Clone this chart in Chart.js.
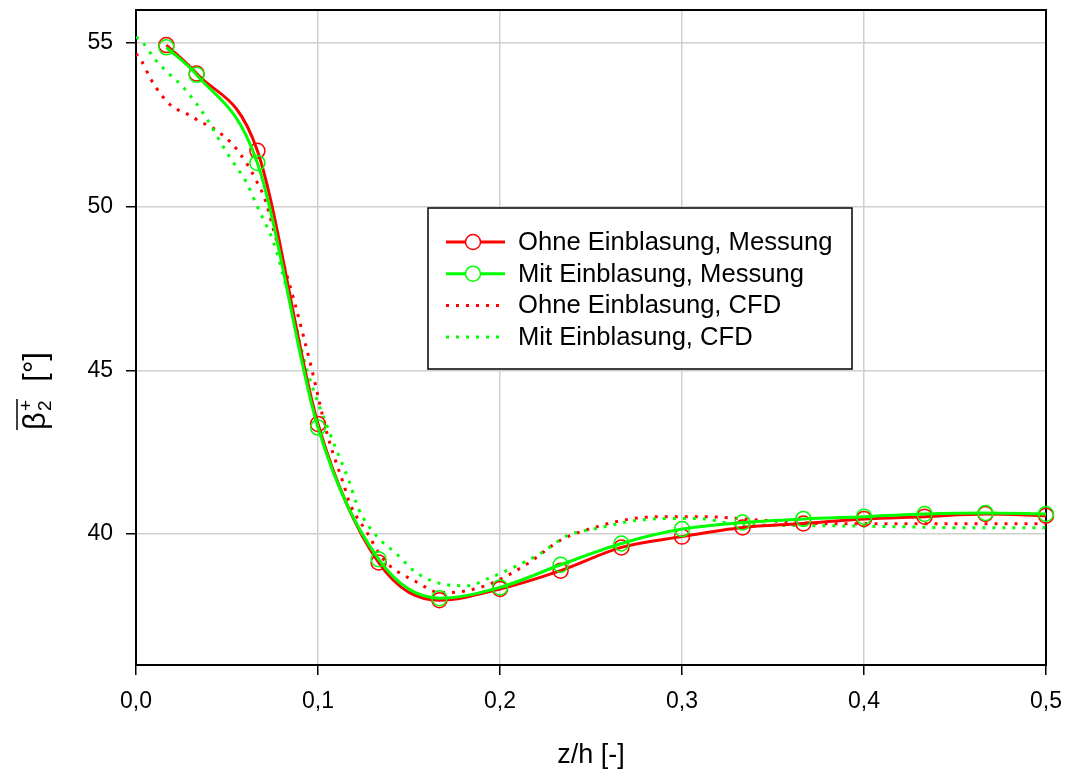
<!DOCTYPE html>
<html>
<head>
<meta charset="utf-8">
<script src="https://cdn.jsdelivr.net/npm/chart.js@4"></script>
<style>
    body { margin: 0; background: #fff; }
    canvas { display: block; }
</style>
</head>
<body>
<canvas id="beta-chart" width="1069" height="773"></canvas>
<script>
// --- DATEN ---
// Messpositionen z/h
const zhMessung = [0.0167, 0.0333, 0.0667, 0.1, 0.1333, 0.1667, 0.2, 0.2333, 0.2667, 0.3, 0.3333, 0.3667, 0.4, 0.4333, 0.4667, 0.5];
const betaOhneMessung = [54.93, 54.06, 51.70, 43.36, 39.13, 37.98, 38.32, 38.88, 39.59, 39.92, 40.20, 40.32, 40.46, 40.53, 40.61, 40.56];
const betaMitMessung = [54.86, 54.02, 51.33, 43.25, 39.23, 38.04, 38.37, 39.06, 39.71, 40.15, 40.35, 40.46, 40.53, 40.61, 40.64, 40.61];

// CFD-Verläufe
const zhOhneCFD = [0, 0.003, 0.008, 0.014, 0.020, 0.028, 0.035, 0.043, 0.053, 0.061, 0.066, 0.071, 0.076, 0.087, 0.0967, 0.105, 0.114, 0.1176, 0.127, 0.1357, 0.155, 0.167, 0.182, 0.196, 0.215, 0.233, 0.255, 0.273, 0.292, 0.31, 0.347, 0.383, 0.42, 0.457, 0.5];
const betaOhneCFD = [54.67, 54.45, 53.9, 53.4, 53.05, 52.83, 52.6, 52.37, 51.9, 51.3, 50.8, 50.2, 49.2, 47.1, 45.0, 43.06, 41.53, 40.92, 40.04, 39.24, 38.51, 38.21, 38.27, 38.51, 39.09, 39.8, 40.25, 40.47, 40.53, 40.53, 40.41, 40.31, 40.31, 40.31, 40.31];
const zhMitCFD = [0, 0.0038, 0.0104, 0.0176, 0.025, 0.0324, 0.039, 0.045, 0.0516, 0.061, 0.066, 0.0704, 0.0753, 0.0846, 0.094, 0.1066, 0.1176, 0.122, 0.132, 0.143, 0.154, 0.168, 0.182, 0.193, 0.207, 0.222, 0.237, 0.255, 0.273, 0.292, 0.31, 0.328, 0.383, 0.42, 0.457, 0.5];
const betaMitCFD = [55.18, 55.0, 54.5, 54.08, 53.7, 53.2, 52.67, 52.1, 51.5, 50.7, 50.08, 49.56, 48.95, 47.1, 45.0, 43.06, 41.53, 40.8, 39.95, 39.4, 38.82, 38.48, 38.42, 38.63, 38.97, 39.4, 39.95, 40.19, 40.4, 40.47, 40.47, 40.31, 40.25, 40.22, 40.19, 40.19];

const xTicks = [0, 0.1, 0.2, 0.3, 0.4, 0.5];
const yTicks = [40, 45, 50, 55];

const ROT = '#ff0000';
const GRUEN = '#00ff00';
const FONT = "'Liberation Sans', Arial, sans-serif";

function toPoints(xs, ys) {
    return xs.map((x, i) => ({ x: x, y: ys[i] }));
}

// Rahmen oben/rechts
const framePlugin = {
    id: 'frame',
    beforeDatasetsDraw(chart) {
        const { ctx, chartArea: a } = chart;
        ctx.save();
        ctx.strokeStyle = '#000';
        ctx.lineWidth = 2;
        ctx.strokeRect(a.left, a.top, a.right - a.left, a.bottom - a.top);
        ctx.restore();
    }
};

// Achsentitel (y mit Überstrich, Index und Exponent)
const titlePlugin = {
    id: 'axisTitles',
    afterDraw(chart) {
        const { ctx, chartArea: a } = chart;
        ctx.save();
        ctx.fillStyle = '#000';
        ctx.textBaseline = 'middle';
        ctx.textAlign = 'center';
        ctx.font = '27px ' + FONT;
        ctx.fillText('z/h [-]', (a.left + a.right) / 2, 756);

        // y-Titel
        ctx.translate(34, 392);
        ctx.rotate(-Math.PI / 2);
        ctx.textAlign = 'left';
        ctx.textBaseline = 'alphabetic';
        const big = '31px ' + FONT;
        const small = '19px ' + FONT;
        ctx.font = big;
        const wBeta = ctx.measureText('β').width;
        const wRest = ctx.measureText('  [°]').width;
        ctx.font = small;
        const wIdx = Math.max(ctx.measureText('2').width, ctx.measureText('+').width);
        const total = wBeta + wIdx + wRest;
        let x = -total / 2;
        const base = 11;
        ctx.font = big;
        ctx.fillText('β', x, base);
        ctx.font = small;
        ctx.fillText('2', x + wBeta + 1, base + 6);
        ctx.fillText('+', x + wBeta + 1, base - 13);
        ctx.font = big;
        ctx.fillText('  [°]', x + wBeta + wIdx + 2, base);
        // Überstrich
        ctx.strokeStyle = '#000';
        ctx.lineWidth = 1.5;
        ctx.beginPath();
        ctx.moveTo(x, base - 28);
        ctx.lineTo(x + wBeta + wIdx + 2, base - 28);
        ctx.stroke();
        ctx.restore();
    }
};

// Legende im Diagramm
const legendPlugin = {
    id: 'boxLegend',
    afterDraw(chart) {
        const { ctx } = chart;
        const entries = [
            { label: 'Ohne Einblasung, Messung', color: ROT, dotted: false },
            { label: 'Mit Einblasung, Messung', color: GRUEN, dotted: false },
            { label: 'Ohne Einblasung, CFD', color: ROT, dotted: true },
            { label: 'Mit Einblasung, CFD', color: GRUEN, dotted: true }
        ];
        const box = { x: 428, y: 208, w: 424, h: 161 };
        ctx.save();
        ctx.fillStyle = '#fff';
        ctx.fillRect(box.x, box.y, box.w, box.h);
        ctx.strokeStyle = '#000';
        ctx.lineWidth = 1.5;
        ctx.strokeRect(box.x, box.y, box.w, box.h);

        entries.forEach((e, i) => {
            const cy = 242 + i * 31.7;
            ctx.strokeStyle = e.color;
            ctx.lineWidth = 3;
            ctx.setLineDash(e.dotted ? [3, 7] : []);
            ctx.beginPath();
            ctx.moveTo(446, cy);
            ctx.lineTo(505, cy);
            ctx.stroke();
            ctx.setLineDash([]);
            if (!e.dotted) {
                ctx.fillStyle = '#fff';
                ctx.lineWidth = 1.5;
                ctx.beginPath();
                ctx.arc(473, cy, 7.5, 0, Math.PI * 2);
                ctx.fill();
                ctx.stroke();
            }
            ctx.fillStyle = '#000';
            ctx.font = '25.6px ' + FONT;
            ctx.textBaseline = 'middle';
            ctx.fillText(e.label, 518, cy + 1);
        });
        ctx.restore();
    }
};

const chart = new Chart(document.getElementById('beta-chart'), {
    type: 'line',
    data: {
        datasets: [
            {
                label: 'Mit Einblasung, Messung',
                data: toPoints(zhMessung, betaMitMessung),
                borderColor: GRUEN,
                borderWidth: 3,
                pointRadius: 7.5,
                pointBorderWidth: 1.5,
                pointBorderColor: GRUEN,
                pointBackgroundColor: 'rgba(0,0,0,0)',
                cubicInterpolationMode: 'monotone',
                clip: false,
                order: 1
            },
            {
                label: 'Ohne Einblasung, Messung',
                data: toPoints(zhMessung, betaOhneMessung),
                borderColor: ROT,
                borderWidth: 3,
                pointRadius: 7.5,
                pointBorderWidth: 1.5,
                pointBorderColor: ROT,
                pointBackgroundColor: 'rgba(0,0,0,0)',
                cubicInterpolationMode: 'monotone',
                clip: false,
                order: 2
            },
            {
                label: 'Mit Einblasung, CFD',
                data: toPoints(zhMitCFD, betaMitCFD),
                borderColor: GRUEN,
                borderWidth: 3,
                borderDash: [3, 7],
                pointRadius: 0,
                cubicInterpolationMode: 'monotone',
                order: 3
            },
            {
                label: 'Ohne Einblasung, CFD',
                data: toPoints(zhOhneCFD, betaOhneCFD),
                borderColor: ROT,
                borderWidth: 3,
                borderDash: [3, 7],
                pointRadius: 0,
                cubicInterpolationMode: 'monotone',
                order: 4
            }
        ]
    },
    options: {
        responsive: false,
        animation: false,
        layout: { padding: { top: 10, right: 23, left: 0, bottom: 0 } },
        plugins: {
            legend: { display: false },
            tooltip: { enabled: false }
        },
        scales: {
            x: {
                type: 'linear',
                min: 0,
                max: 0.5,
                afterBuildTicks: (scale) => { scale.ticks = xTicks.map(v => ({ value: v })); },
                afterFit: (scale) => {
                    scale.height = 108;
                    scale.paddingLeft = 0;
                    scale.paddingRight = 0;
                },
                ticks: {
                    color: '#000',
                    font: { family: FONT, size: 23 },
                    padding: 13,
                    maxRotation: 0,
                    callback: (v) => v.toFixed(1).replace('.', ',')
                },
                grid: { color: '#d0d0d0', lineWidth: 1.5, tickColor: '#000', tickLength: 10 },
                border: { color: '#000', width: 2 }
            },
            y: {
                min: 36,
                max: 56,
                afterBuildTicks: (scale) => { scale.ticks = yTicks.map(v => ({ value: v })); },
                afterFit: (scale) => {
                    scale.width = 136;
                    scale.paddingTop = 0;
                    scale.paddingBottom = 0;
                },
                ticks: {
                    color: '#000',
                    font: { family: FONT, size: 23 },
                    padding: 13
                },
                grid: { color: '#d0d0d0', lineWidth: 1.5, tickColor: '#000', tickLength: 10 },
                border: { color: '#000', width: 2 }
            }
        }
    },
    plugins: [framePlugin, titlePlugin, legendPlugin]
});
</script>
</body>
</html>
